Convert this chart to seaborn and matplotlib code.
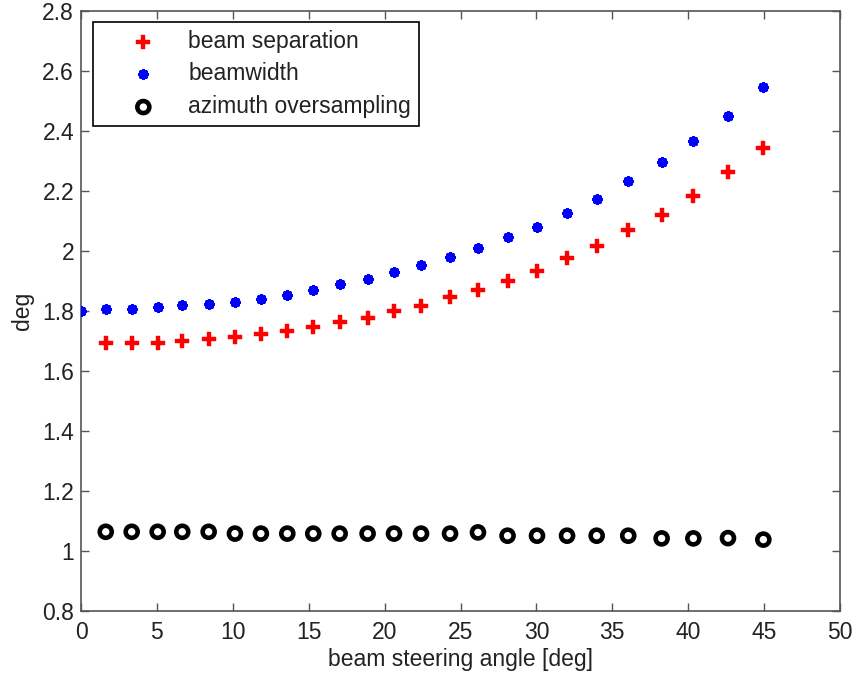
import matplotlib
matplotlib.use("Agg")
import matplotlib.pyplot as plt
import seaborn as sns
import pandas as pd

# --- data ---
angles = [1.63, 3.34, 5.05, 6.67, 8.41, 10.14, 11.85, 13.59, 15.30, 17.04, 18.88, 20.62,
          22.40, 24.31, 26.15, 28.10, 30.04, 32.02, 33.97, 36.05, 38.25, 40.34, 42.62, 44.95]
beam_separation = [1.692, 1.692, 1.692, 1.699, 1.706, 1.712, 1.722, 1.732, 1.748, 1.764, 1.776, 1.799,
                   1.817, 1.848, 1.870, 1.900, 1.934, 1.976, 2.016, 2.070, 2.121, 2.184, 2.262, 2.343]
beamwidth_angles = [0.0] + angles
beamwidth = [1.800, 1.806, 1.806, 1.813, 1.819, 1.824, 1.831, 1.841, 1.854, 1.871, 1.889, 1.906, 1.930,
             1.952, 1.981, 2.010, 2.046, 2.080, 2.128, 2.173, 2.232, 2.297, 2.367, 2.449, 2.548]
oversampling = [1.064, 1.064, 1.064, 1.064, 1.064, 1.058, 1.058, 1.058, 1.058, 1.058, 1.058, 1.058,
                1.058, 1.058, 1.062, 1.051, 1.051, 1.051, 1.051, 1.051, 1.042, 1.042, 1.043, 1.038]
x_ticks = [0, 5, 10, 15, 20, 25, 30, 35, 40, 45, 50]
y_ticks = [0.8, 1.0, 1.2, 1.4, 1.6, 1.8, 2.0, 2.2, 2.4, 2.6, 2.8]
y_ticklabels = ["0.8", "1", "1.2", "1.4", "1.6", "1.8", "2", "2.2", "2.4", "2.6", "2.8"]

df_sep = pd.DataFrame({"angle": angles, "value": beam_separation})
df_bw = pd.DataFrame({"angle": beamwidth_angles, "value": beamwidth})
df_ov = pd.DataFrame({"angle": angles, "value": oversampling})

sns.set_style("ticks")
plt.rcParams["font.family"] = ["Liberation Sans", "DejaVu Sans"]
txt = "#222222"
axcol = "#555555"
fs = 16.5

fig = plt.figure(figsize=(8.57, 6.77), dpi=100)
ax = fig.add_axes([81 / 857, 66 / 677, 759 / 857, 600 / 677])

sns.scatterplot(data=df_sep, x="angle", y="value", ax=ax, marker="P", s=95,
                color="#ff0000", edgecolor="#ff0000", linewidth=0.3,
                label="beam separation", zorder=3)
sns.scatterplot(data=df_bw, x="angle", y="value", ax=ax, marker=(8, 2, 0), s=26,
                color="#0000ff", edgecolor="#0000ff", linewidth=2.8,
                label="beamwidth", zorder=3)
sns.scatterplot(data=df_ov, x="angle", y="value", ax=ax, marker="o", s=75,
                facecolor="none", edgecolor="black", linewidth=3.3,
                label="azimuth oversampling", zorder=3)

ax.set_xlim(0, 50)
ax.set_ylim(0.8, 2.8)
ax.set_xticks(x_ticks)
ax.set_xticklabels([str(t) for t in x_ticks])
ax.set_yticks(y_ticks)
ax.set_yticklabels(y_ticklabels)
ax.tick_params(direction="in", length=6, width=1, color=axcol, labelsize=fs,
               labelcolor=txt, top=True, right=True)
ax.tick_params(axis="x", pad=7)
ax.tick_params(axis="y", pad=5)
for sp in ax.spines.values():
    sp.set_visible(True)
    sp.set_color(axcol)
    sp.set_linewidth(1.2)

ax.set_xlabel("beam steering angle [deg]", fontsize=fs, color=txt, labelpad=3)
ax.set_ylabel("deg", fontsize=fs, color=txt, labelpad=6)

leg = ax.legend(loc="upper left", bbox_to_anchor=(0.016, 0.982), fontsize=fs,
                frameon=True, fancybox=False, edgecolor="black", framealpha=1,
                borderpad=0.35, labelspacing=0.42, handletextpad=0.12,
                handlelength=3.68, borderaxespad=0)
leg.get_frame().set_linewidth(1.2)
for t in leg.get_texts():
    t.set_color(txt)

fig.savefig("out.png", dpi=100)
